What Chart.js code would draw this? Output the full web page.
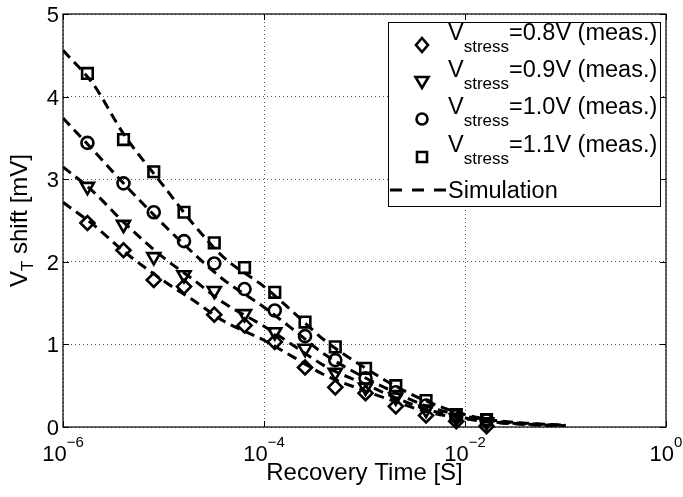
<!DOCTYPE html>
<html><head><meta charset="utf-8">
<script src="https://cdn.jsdelivr.net/npm/chart.js@4.4.1/dist/chart.umd.min.js"></script>
<style>html,body{margin:0;padding:0;background:#fff;}#wrap{width:683px;height:497px;position:relative;}</style>
</head><body><div id="wrap"><canvas id="c" width="683" height="497"></canvas></div>
<script>
// ---- data ----
const recoveryTimes = [1.75e-6, 4e-6, 8e-6, 1.6e-5, 3.2e-5, 6.4e-5, 1.28e-4, 2.56e-4, 5.12e-4, 1.024e-3, 2.048e-3, 4.096e-3, 8.192e-3, 1.6384e-2];
const meas08 = [2.47, 2.14, 1.78, 1.70, 1.36, 1.23, 1.03, 0.72, 0.48, 0.41, 0.25, 0.14, 0.07, 0.01];
const meas09 = [2.91, 2.45, 2.06, 1.84, 1.65, 1.37, 1.15, 0.95, 0.66, 0.48, 0.36, 0.21, 0.11, 0.06];
const meas10 = [3.44, 2.95, 2.60, 2.25, 1.98, 1.67, 1.41, 1.10, 0.81, 0.59, 0.42, 0.26, 0.13, 0.08];
const meas11 = [4.28, 3.48, 3.09, 2.60, 2.23, 1.93, 1.63, 1.27, 0.97, 0.71, 0.50, 0.32, 0.15, 0.09];
const simTimes = [1e-6, 2e-6, 4e-6, 1e-5, 2e-5, 4e-5, 1e-4, 2e-4, 4e-4, 1e-3, 2e-3, 4e-3, 1e-2, 2e-2, 5e-2, 1e-1];
const sim08 = [2.72, 2.45, 2.13, 1.77, 1.53, 1.28, 1.05, 0.84, 0.63, 0.44, 0.31, 0.19, 0.10, 0.055, 0.025, 0.01];
const sim09 = [3.15, 2.85, 2.48, 2.05, 1.78, 1.50, 1.22, 0.98, 0.74, 0.52, 0.36, 0.22, 0.11, 0.06, 0.03, 0.015];
const sim10 = [3.74, 3.35, 2.95, 2.45, 2.10, 1.78, 1.45, 1.17, 0.88, 0.60, 0.42, 0.26, 0.13, 0.07, 0.035, 0.02];
const sim11 = [4.56, 4.15, 3.55, 2.92, 2.45, 2.05, 1.70, 1.38, 1.05, 0.72, 0.50, 0.32, 0.15, 0.08, 0.04, 0.02];
const stressLabels = ['0.8V', '0.9V', '1.0V', '1.1V'];
const markerStyles = ['diamond', 'triangleDown', 'circle', 'square'];
const simLabel = 'Simulation';
const xTickValues = [1e-6, 1e-4, 1e-2, 1e0];
const xTickExponents = ['\u22126', '\u22124', '\u22122', '0'];
const yTickValues = [0, 1, 2, 3, 4, 5];
const xTitle = 'Recovery Time [S]';

const FONT = '"Liberation Sans", Arial, Helvetica, sans-serif';
const toXY = (xs, ys) => xs.map((x, i) => ({x: x, y: ys[i]}));
const measSeries = [meas08, meas09, meas10, meas11];
const simSeries = [sim08, sim09, sim10, sim11];

const styleMap = {
  diamond: {pointStyle: 'rectRot', pointRadius: 7, pointRotation: 0},
  triangleDown: {pointStyle: 'triangle', pointRadius: 7.5, pointRotation: 180},
  circle: {pointStyle: 'circle', pointRadius: 6, pointRotation: 0},
  square: {pointStyle: 'rect', pointRadius: 7.5, pointRotation: 0}
};

const datasets = [];
simSeries.forEach((s, i) => datasets.push({
  label: simLabel + ' ' + stressLabels[i],
  data: toXY(simTimes, s),
  showLine: true, pointRadius: 0, borderColor: '#000', borderWidth: 3,
  borderDash: [10, 6], cubicInterpolationMode: 'monotone', fill: false
}));
measSeries.forEach((s, i) => {
  const st = styleMap[markerStyles[i]];
  datasets.push({
    label: 'Vstress=' + stressLabels[i] + ' (meas.)',
    data: toXY(recoveryTimes, s),
    showLine: false,
    pointStyle: st.pointStyle, pointRadius: st.pointRadius, pointRotation: st.pointRotation,
    pointBorderColor: '#000', pointBackgroundColor: 'rgba(0,0,0,0)', pointBorderWidth: 2.6,
    borderColor: '#000', clip: false
  });
});

function drawMarker(ctx, kind, x, y) {
  ctx.save();
  ctx.strokeStyle = '#000'; ctx.lineWidth = 2.6; ctx.beginPath();
  if (kind === 'diamond') {
    ctx.moveTo(x, y - 7); ctx.lineTo(x + 6, y); ctx.lineTo(x, y + 7); ctx.lineTo(x - 6, y); ctx.closePath();
  } else if (kind === 'triangleDown') {
    ctx.moveTo(x - 6.5, y - 5); ctx.lineTo(x + 6.5, y - 5); ctx.lineTo(x, y + 6); ctx.closePath();
  } else if (kind === 'circle') {
    ctx.arc(x, y, 5.5, 0, Math.PI * 2);
  } else {
    ctx.rect(x - 5, y - 5, 10, 10);
  }
  ctx.stroke(); ctx.restore();
}

const decorPlugin = {
  id: 'decor',
  afterDraw(chart) {
    const ctx = chart.ctx, a = chart.chartArea;
    const xs = chart.scales.x, ys = chart.scales.y;
    ctx.save();
    // frame
    ctx.strokeStyle = '#000'; ctx.lineWidth = 1.2; ctx.setLineDash([]);
    ctx.strokeRect(a.left, a.top, a.right - a.left, a.bottom - a.top);
    // ticks (inside)
    ctx.beginPath();
    const tl = 6;
    xTickValues.forEach(v => {
      const px = Math.round(xs.getPixelForValue(v)) + 0.5;
      ctx.moveTo(px, a.bottom); ctx.lineTo(px, a.bottom - tl);
      ctx.moveTo(px, a.top); ctx.lineTo(px, a.top + tl);
    });
    yTickValues.forEach(v => {
      const py = Math.round(ys.getPixelForValue(v)) + 0.5;
      ctx.moveTo(a.left, py); ctx.lineTo(a.left + tl, py);
      ctx.moveTo(a.right, py); ctx.lineTo(a.right - tl, py);
    });
    ctx.lineWidth = 1; ctx.stroke();
    ctx.fillStyle = '#000';
    // y tick labels
    ctx.font = '22px ' + FONT; ctx.textAlign = 'right'; ctx.textBaseline = 'alphabetic';
    yTickValues.forEach(v => {
      const py = ys.getPixelForValue(v);
      ctx.fillText(String(v), a.left - 4, py + 8);
    });
    // x tick labels with superscripts
    ctx.textAlign = 'left';
    xTickValues.forEach((v, i) => {
      const px = xs.getPixelForValue(v);
      ctx.font = '22px ' + FONT; const w1 = ctx.measureText('10').width;
      ctx.font = '15px ' + FONT; const w2 = ctx.measureText(xTickExponents[i]).width;
      const x0 = px - (w1 + w2) / 2;
      ctx.font = '22px ' + FONT; ctx.fillText('10', x0, a.bottom + 34);
      ctx.font = '15px ' + FONT; ctx.fillText(xTickExponents[i], x0 + w1, a.bottom + 20);
    });
    // x title
    ctx.font = '24px ' + FONT; ctx.textAlign = 'center';
    ctx.fillText(xTitle, (a.left + a.right) / 2, 480);
    // y title: V_T shift [mV]
    ctx.save();
    ctx.translate(27, (a.top + a.bottom) / 2);
    ctx.rotate(-Math.PI / 2);
    ctx.textAlign = 'left';
    ctx.font = '24px ' + FONT; const wV = ctx.measureText('V').width;
    ctx.font = '17px ' + FONT; const wT = ctx.measureText('T').width;
    ctx.font = '24px ' + FONT; const wR = ctx.measureText(' shift [mV]').width;
    let x0 = -(wV + wT + wR) / 2;
    ctx.fillText('V', x0, 0);
    ctx.font = '17px ' + FONT; ctx.fillText('T', x0 + wV, 6);
    ctx.font = '24px ' + FONT; ctx.fillText(' shift [mV]', x0 + wV + wT, 0);
    ctx.restore();
    // legend
    const lx = 388, ly = 22, lw = 272, lh = 184;
    ctx.fillStyle = '#fff'; ctx.fillRect(lx, ly, lw, lh);
    ctx.strokeStyle = '#000'; ctx.lineWidth = 1; ctx.strokeRect(lx + 0.5, ly + 0.5, lw, lh);
    ctx.fillStyle = '#000'; ctx.textAlign = 'left';
    const baselines = [40, 77, 114, 152];
    stressLabels.forEach((lab, i) => {
      const b = baselines[i];
      drawMarker(ctx, markerStyles[i], 422, b + 5);
      ctx.font = '23.5px ' + FONT; ctx.fillText('V', 448, b);
      const wv = ctx.measureText('V').width;
      ctx.font = '17px ' + FONT; ctx.fillText('stress', 448 + wv, b + 12);
      const ws = ctx.measureText('stress').width;
      ctx.font = '23.5px ' + FONT; ctx.fillText('=' + lab + ' (meas.)', 448 + wv + ws, b);
    });
    ctx.beginPath(); ctx.lineWidth = 3; ctx.setLineDash([12, 10]);
    ctx.moveTo(390, 190); ctx.lineTo(447, 190); ctx.stroke(); ctx.setLineDash([]);
    ctx.font = '23.5px ' + FONT; ctx.fillText(simLabel, 448, 198);
    ctx.restore();
  }
};

new Chart(document.getElementById('c'), {
  type: 'scatter',
  data: {datasets: datasets},
  options: {
    responsive: false, animation: false, devicePixelRatio: 1,
    layout: {padding: {left: 63, right: 17, top: 14, bottom: 70}},
    plugins: {legend: {display: false}, tooltip: {enabled: false}},
    scales: {
      x: {
        type: 'logarithmic', min: 1e-6, max: 1,
        afterBuildTicks: s => { s.ticks = xTickValues.map(v => ({value: v})); },
        ticks: {display: false},
        grid: {color: '#555', lineWidth: 1, drawTicks: false},
        border: {display: false, dash: [1, 3]},
        title: {display: false}
      },
      y: {
        min: 0, max: 5,
        afterBuildTicks: s => { s.ticks = yTickValues.map(v => ({value: v})); },
        ticks: {display: false},
        grid: {color: '#555', lineWidth: 1, drawTicks: false},
        border: {display: false, dash: [1, 3]},
        title: {display: false}
      }
    }
  },
  plugins: [decorPlugin]
});
</script>
</body></html>
